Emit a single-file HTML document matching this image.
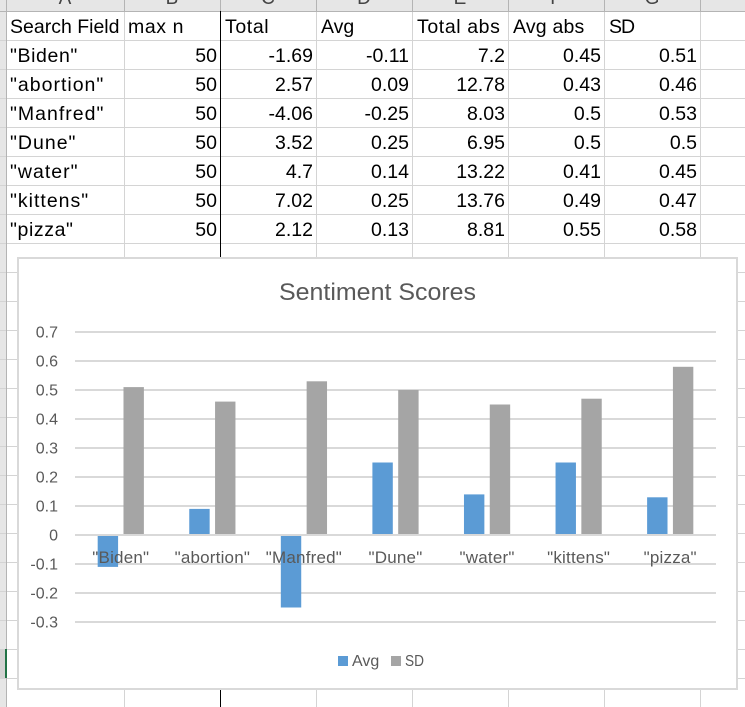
<!DOCTYPE html>
<html lang="en">
<head>
<meta charset="utf-8">
<title>Sentiment Scores</title>
<style>
html,body{margin:0;padding:0;background:#fff}
#sheet{position:relative;width:745px;height:707px;overflow:hidden;background:#fff;font-family:"Liberation Sans",sans-serif}
#grid-lines{position:absolute;left:0;top:0}
#cells{position:absolute;left:6px;top:13px;border-collapse:separate;border-spacing:0;table-layout:fixed;width:695px;font-size:19.5px;color:#000}
#cells td{height:29px;padding:0 4px 0 4px;box-sizing:border-box;line-height:29px;white-space:nowrap;overflow:hidden}
#cells td.n{text-align:right}
#cells td.t{letter-spacing:1px}
#cells td.w{letter-spacing:.6px}
#cells td.a{letter-spacing:.2px}
#cells td.s{letter-spacing:-1px}
.col-head{position:absolute;top:-11px;font-size:19px;line-height:20px;color:#444;transform:translateX(-50%)}
#chart{position:absolute;left:0;top:0}
</style>
</head>
<body>
<div id="sheet">
  <svg id="grid-lines" width="745" height="707">
    <rect x="0" y="0" width="745" height="11" fill="#e6e6e6"/>
    <rect x="0" y="0" width="6" height="707" fill="#e6e6e6"/>
    <g id="row-lines" stroke="#d4d4d4" stroke-width="1"></g>
    <g id="col-lines" stroke="#d4d4d4" stroke-width="1"></g>
    <g id="head-ticks" stroke="#b4b4b4" stroke-width="1"></g>
    <rect x="0" y="11" width="745" height="1" fill="#b4b4b4"/>
    <rect x="6" y="0" width="1" height="707" fill="#b4b4b4"/>
    <rect x="0" y="649" width="5" height="29" fill="#d2d2d2"/>
    <rect x="5" y="649" width="2" height="29" fill="#217346"/>
    <rect x="220" y="11" width="1" height="696" fill="#000"/>
  </svg>
  <div class="col-head" style="left:65px">A</div>
  <div class="col-head" style="left:172px">B</div>
  <div class="col-head" style="left:268px">C</div>
  <div class="col-head" style="left:364px">D</div>
  <div class="col-head" style="left:460px">E</div>
  <div class="col-head" style="left:556px">F</div>
  <div class="col-head" style="left:652px">G</div>
  <table id="cells">
    <colgroup><col style="width:118px"><col style="width:97px"><col style="width:96px"><col style="width:96px"><col style="width:96px"><col style="width:96px"><col style="width:96px"></colgroup>
    <tr><td>Search Field</td><td class="w">max n</td><td class="w">Total</td><td>Avg</td><td class="w">Total abs</td><td class="a">Avg abs</td><td class="s">SD</td></tr>
    <tr><td class="w">"Biden"</td><td class="n">50</td><td class="n">-1.69</td><td class="n">-0.11</td><td class="n">7.2</td><td class="n">0.45</td><td class="n">0.51</td></tr>
    <tr><td class="t">"abortion"</td><td class="n">50</td><td class="n">2.57</td><td class="n">0.09</td><td class="n">12.78</td><td class="n">0.43</td><td class="n">0.46</td></tr>
    <tr><td class="t">"Manfred"</td><td class="n">50</td><td class="n">-4.06</td><td class="n">-0.25</td><td class="n">8.03</td><td class="n">0.5</td><td class="n">0.53</td></tr>
    <tr><td class="t">"Dune"</td><td class="n">50</td><td class="n">3.52</td><td class="n">0.25</td><td class="n">6.95</td><td class="n">0.5</td><td class="n">0.5</td></tr>
    <tr><td class="t">"water"</td><td class="n">50</td><td class="n">4.7</td><td class="n">0.14</td><td class="n">13.22</td><td class="n">0.41</td><td class="n">0.45</td></tr>
    <tr><td class="t">"kittens"</td><td class="n">50</td><td class="n">7.02</td><td class="n">0.25</td><td class="n">13.76</td><td class="n">0.49</td><td class="n">0.47</td></tr>
    <tr><td class="w">"pizza"</td><td class="n">50</td><td class="n">2.12</td><td class="n">0.13</td><td class="n">8.81</td><td class="n">0.55</td><td class="n">0.58</td></tr>
  </table>
  <svg id="chart" width="745" height="707" font-family="'Liberation Sans',sans-serif"></svg>
</div>
<script>
const categories = ['"Biden"', '"abortion"', '"Manfred"', '"Dune"', '"water"', '"kittens"', '"pizza"'];
const avgValues = [-0.11, 0.09, -0.25, 0.25, 0.14, 0.25, 0.13];
const sdValues = [0.51, 0.46, 0.53, 0.5, 0.45, 0.47, 0.58];
const tickValues = [0.7, 0.6, 0.5, 0.4, 0.3, 0.2, 0.1, 0, -0.1, -0.2, -0.3];
const tickLabels = ['0.7', '0.6', '0.5', '0.4', '0.3', '0.2', '0.1', '0', '-0.1', '-0.2', '-0.3'];

const NS = 'http://www.w3.org/2000/svg';
function mk(parent, tag, attrs, text) {
  const el = document.createElementNS(NS, tag);
  for (const k in attrs) el.setAttribute(k, attrs[k]);
  if (text !== undefined) el.textContent = text;
  parent.appendChild(el);
  return el;
}

// spreadsheet gridlines
const rowLines = document.getElementById('row-lines');
for (let y = 40.5; y < 707; y += 29) {
  mk(rowLines, 'line', {x1: 0, x2: 745, y1: y, y2: y});
}
const colXs = [124.5, 220.5, 316.5, 412.5, 508.5, 604.5, 700.5];
const colLines = document.getElementById('col-lines');
const headTicks = document.getElementById('head-ticks');
colXs.forEach(function (x) {
  mk(colLines, 'line', {x1: x, x2: x, y1: 11, y2: 707});
  mk(headTicks, 'line', {x1: x, x2: x, y1: 0, y2: 11});
});

// chart
const chart = document.getElementById('chart');
const plotLeft = 75, plotRight = 716, zeroY = 535, pxPerUnit = 290;
const barW = 20.4, barGap = 5.4;
const bandW = (plotRight - plotLeft) / categories.length;
function yScale(v) { return zeroY - v * pxPerUnit; }
function xCenter(i) { return plotLeft + bandW * (i + 0.5); }

const frame = mk(chart, 'rect', {x: 18, y: 258, width: 719, height: 431, fill: '#fff', stroke: '#d9d9d9', 'stroke-width': 2});



const title = mk(chart, 'text', {x: 377.5, y: 300, 'text-anchor': 'middle', 'font-size': 24, fill: '#595959', textLength: 197, lengthAdjust: 'spacingAndGlyphs'}, 'Sentiment Scores');



tickValues.forEach(function (v, i) {
  const y = yScale(v);
  if (v !== 0) {
    const line = mk(chart, 'line', {x1: plotLeft, x2: plotRight, y1: y, y2: y, stroke: '#d9d9d9', 'stroke-width': 2});
    
    
  }
  const label = mk(chart, 'text', {x: 58, y: y + 5.5, 'text-anchor': 'end', 'font-size': 16, fill: '#595959'}, tickLabels[i]);
  
  
});

categories.forEach(function (c, i) {
  const cx = xCenter(i);
  const a = avgValues[i], s = sdValues[i];
  const avgBar = mk(chart, 'rect', {x: cx - barGap / 2 - barW, y: Math.min(yScale(a), zeroY), width: barW, height: Math.abs(a) * pxPerUnit, fill: '#5b9bd5'});
  
  
  const sdBar = mk(chart, 'rect', {x: cx + barGap / 2, y: Math.min(yScale(s), zeroY), width: barW, height: Math.abs(s) * pxPerUnit, fill: '#a5a5a5'});
  
  
});

const axisLine = mk(chart, 'line', {x1: plotLeft, x2: plotRight, y1: zeroY, y2: zeroY, stroke: '#d9d9d9', 'stroke-width': 2});



categories.forEach(function (c, i) {
  const label = mk(chart, 'text', {x: xCenter(i), y: 563, 'text-anchor': 'middle', 'font-size': 17, 'letter-spacing': 0.2, fill: '#595959'}, c);
  
  
});

const avgSwatch = mk(chart, 'rect', {x: 338, y: 656, width: 10, height: 10, fill: '#5b9bd5'});


const avgText = mk(chart, 'text', {x: 352, y: 666, 'font-size': 16, fill: '#595959'}, 'Avg');


const sdSwatch = mk(chart, 'rect', {x: 391, y: 656, width: 10, height: 10, fill: '#a5a5a5'});


const sdText = mk(chart, 'text', {x: 405, y: 666, 'font-size': 16, textLength: 19, lengthAdjust: 'spacingAndGlyphs', fill: '#595959'}, 'SD');


</script>
</body>
</html>
